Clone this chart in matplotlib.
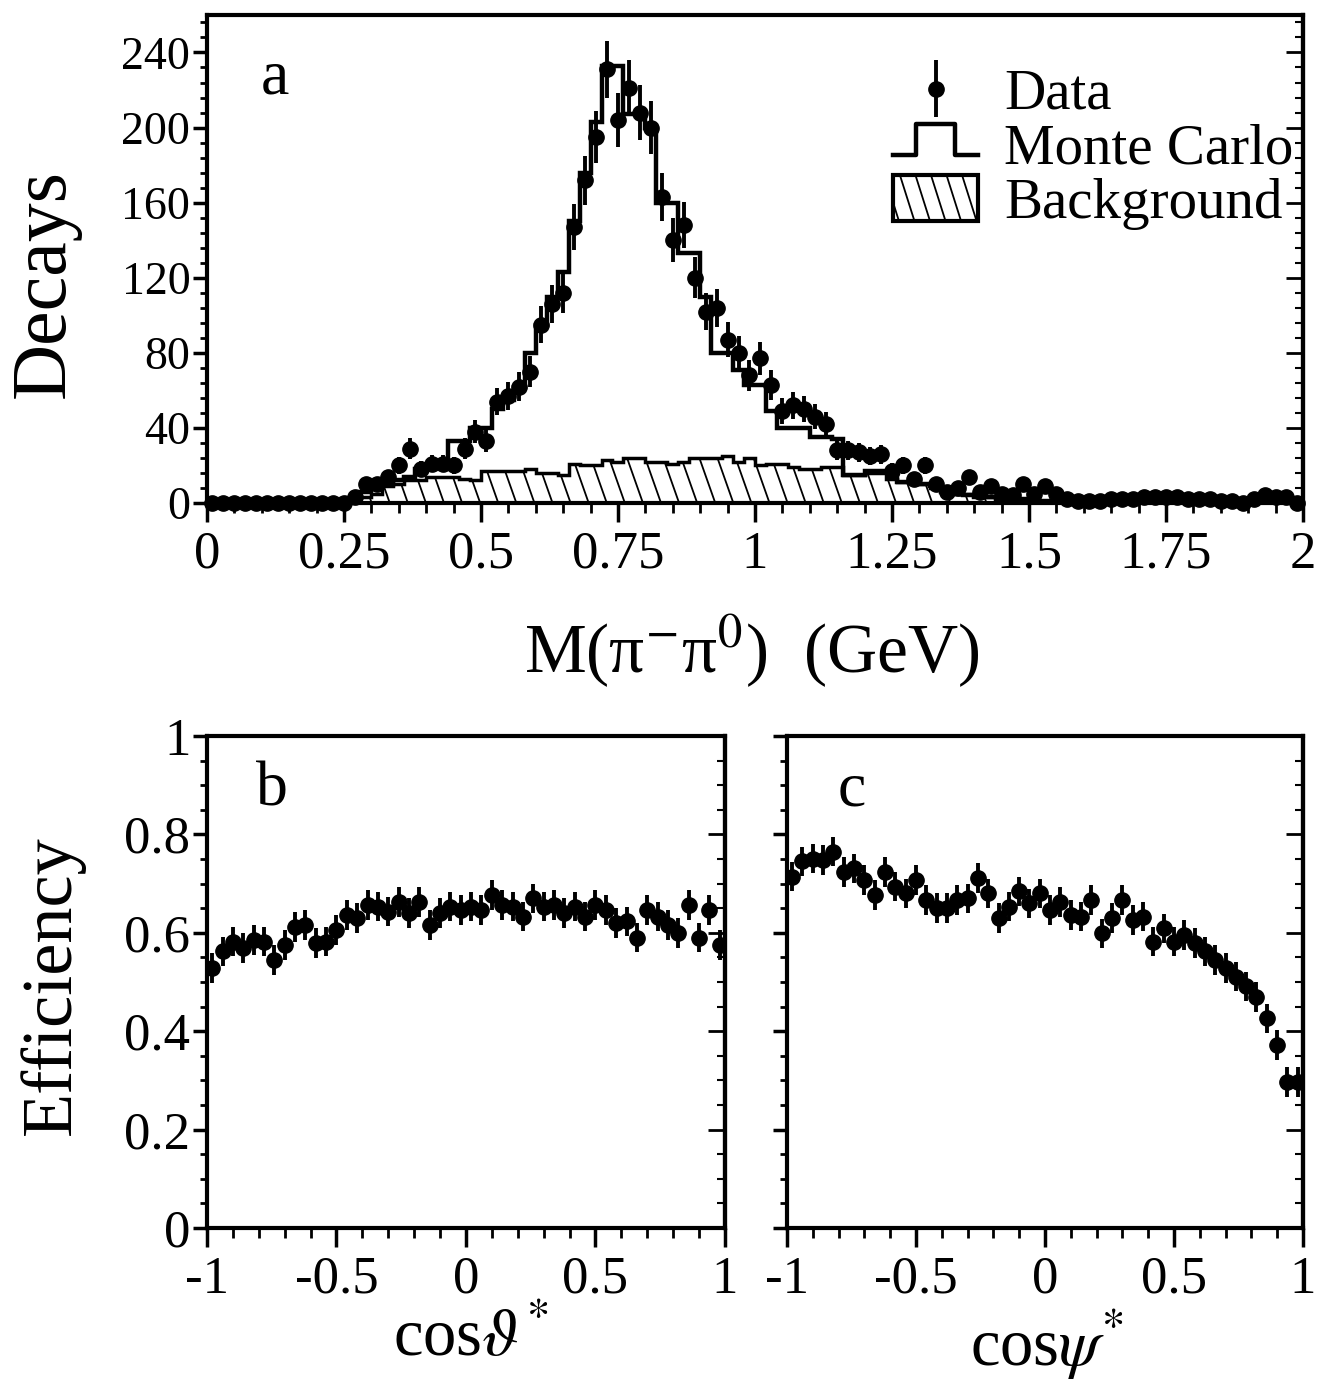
import numpy as np
import matplotlib
matplotlib.use('Agg')
import matplotlib.pyplot as plt
import matplotlib.ticker as mt
from matplotlib.legend_handler import HandlerBase
from matplotlib.lines import Line2D
from matplotlib.patches import Rectangle

plt.rcParams['font.family'] = ['Liberation Serif', 'DejaVu Serif']
plt.rcParams['mathtext.fontset'] = 'stix'
plt.rcParams['axes.unicode_minus'] = False

# ---- panel a : M(pi- pi0), 100 bins of 20 MeV ----
mass_edges = np.linspace(0, 2, 101)
data_counts = [0, 0, 0, 0, 0, 0, 0, 0, 0, 0, 0, 0, 0, 3, 10, 10, 14, 20, 29, 18,
               21, 21, 20, 29, 38, 33, 54, 57, 62, 70, 95, 106, 112, 147, 172, 195, 231, 204, 221, 208,
               200, 163, 140, 148, 120, 102, 104, 87, 80, 68, 77, 63, 49, 52, 50, 46, 42, 28, 28, 27,
               25, 26, 17, 20, 13, 20, 10, 6, 8, 14, 6, 9, 5, 4, 10, 5, 9, 5, 2, 1,
               1, 1, 2, 2, 2, 3, 3, 3, 3, 2, 2, 2, 1, 1, 0, 2, 4, 3, 3, 0]
mc_counts = [0, 0, 0, 0, 0, 0, 0, 0, 0, 0, 0, 0, 0, 2, 6, 8, 10, 12, 14, 18,
             20, 22, 33, 33, 40, 40, 50, 55, 62, 80, 95, 110, 123, 150, 176, 203, 233, 233, 207, 207,
             200, 160, 160, 133, 133, 110, 80, 80, 71, 63, 63, 49, 40, 40, 40, 35, 35, 34, 15, 15,
             17, 17, 17, 11, 11, 10, 9, 6, 5, 4, 3, 3, 2, 2, 2, 1, 1, 1, 1, 1,
             1, 1, 1, 1, 2, 2, 2, 2, 2, 2, 2, 1, 1, 1, 1, 1, 2, 2, 2, 1]
bkg_counts = [0, 0, 0, 0, 0, 0, 0, 0, 0, 0, 0, 0, 0, 1, 3, 5, 9, 10, 12, 12,
              14, 14, 14, 13, 12, 17, 17, 17, 17, 18, 16, 16, 15, 21, 20, 20, 23, 22, 24, 24,
              22, 22, 21, 22, 24, 24, 24, 25, 22, 24, 20, 21, 21, 19, 18, 18, 19, 19, 15, 15,
              16, 16, 13, 11, 11, 10, 8, 6, 5, 5, 4, 3, 3, 2, 2, 1, 1, 1, 0, 0,
              0, 0, 0, 0, 0, 0, 0, 0, 0, 0, 0, 0, 0, 0, 0, 0, 0, 0, 0, 0]

# ---- panels b, c : efficiency, 50 bins ----
cos_centers = np.linspace(-0.98, 0.98, 50)
eff_theta = [0.528, 0.562, 0.582, 0.569, 0.585, 0.582, 0.545, 0.575, 0.612, 0.616,
             0.579, 0.582, 0.606, 0.636, 0.630, 0.657, 0.653, 0.643, 0.663, 0.640,
             0.663, 0.616, 0.640, 0.653, 0.646, 0.653, 0.646, 0.677, 0.656, 0.653,
             0.633, 0.670, 0.653, 0.656, 0.640, 0.653, 0.633, 0.656, 0.646, 0.620,
             0.623, 0.590, 0.646, 0.633, 0.616, 0.600, 0.656, 0.590, 0.646, 0.575]
eff_psi = [0.714, 0.745, 0.751, 0.748, 0.765, 0.724, 0.731, 0.707, 0.677, 0.724,
           0.694, 0.680, 0.707, 0.667, 0.650, 0.650, 0.667, 0.670, 0.711, 0.680,
           0.630, 0.653, 0.684, 0.660, 0.680, 0.646, 0.663, 0.636, 0.633, 0.667,
           0.599, 0.630, 0.667, 0.626, 0.633, 0.582, 0.609, 0.582, 0.596, 0.579,
           0.562, 0.545, 0.528, 0.511, 0.491, 0.470, 0.426, 0.372, 0.297, 0.297]
eff_err = 0.03


class StepHandler(HandlerBase):
    def create_artists(self, legend, orig_handle, xd, yd, w, h, fontsize, trans):
        x0, y0 = -xd, -yd
        lo, hi = y0 + 0.2 * h, y0 + 1.0 * h
        xs = [x0, x0 + 0.27 * w, x0 + 0.27 * w, x0 + 0.73 * w, x0 + 0.73 * w, x0 + w]
        ys = [lo, lo, hi, hi, lo, lo]
        return [Line2D(xs, ys, color='black', lw=3.2, transform=trans)]


class HatchBoxHandler(HandlerBase):
    def create_artists(self, legend, orig_handle, xd, yd, w, h, fontsize, trans):
        hh = 1.15 * h
        x0, y0 = -xd, -yd + 0.5 * h - 0.5 * hh
        box = Rectangle((x0, y0), w, hh, facecolor='white', edgecolor='black',
                        lw=3, transform=trans)
        arts = [box]
        for k in range(7):
            xa = x0 - 0.1 * w + k * w / 5.5
            ln = Line2D([xa, xa + 0.17 * w], [y0 + hh, y0], color='black', lw=1.3,
                        transform=trans)
            ln.set_clip_path(box)
            arts.append(ln)
        return arts


def finish_axis(ax, labels=True, ylabsize=38):
    for sp in ax.spines.values():
        sp.set_linewidth(3)
    ax.tick_params(which='major', direction='out', length=14, width=2.5,
                   labelsize=38, pad=6, labelleft=labels)
    ax.tick_params(which='minor', direction='out', length=7, width=2)
    ax.tick_params(axis='y', which='major', length=10, pad=2, labelsize=ylabsize)
    ax.tick_params(axis='y', which='minor', length=5)
    sec = ax.secondary_yaxis('right')
    sec.yaxis.set_major_locator(ax.yaxis.get_major_locator())
    sec.yaxis.set_minor_locator(ax.yaxis.get_minor_locator())
    sec.tick_params(which='major', direction='in', length=12, width=2, labelright=False)
    sec.tick_params(which='minor', direction='in', length=6, width=1.5)
    sec.spines['right'].set_linewidth(3)


fmt = mt.FuncFormatter(lambda v, p: '%g' % v)

fig = plt.figure(figsize=(13.26, 13.83), dpi=100)

# ---------------- panel a ----------------
ax = fig.add_axes([0.1561, 0.6363, 0.8265, 0.3529])
centers = 0.5 * (mass_edges[1:] + mass_edges[:-1])
bkg = ax.stairs(bkg_counts, mass_edges, fill=True, facecolor='white',
                edgecolor='black', lw=2.5, zorder=1)
for x0 in np.arange(0.27, 1.62, 0.033):
    ln, = ax.plot([x0, x0 - 0.075], [-2, 60], color='black', lw=1.3, zorder=1.5)
    ln.set_clip_path(bkg)
mc = ax.stairs(mc_counts, mass_edges, color='black', lw=3.2, zorder=2)
dat = ax.errorbar(centers, data_counts, yerr=np.sqrt(data_counts), fmt='o',
                  color='black', ms=11, elinewidth=2.8, capsize=0, zorder=3,
                  clip_on=False)
ax.set_xlim(0, 2)
ax.set_ylim(0, 260)
ax.xaxis.set_major_locator(mt.MultipleLocator(0.25))
ax.xaxis.set_minor_locator(mt.MultipleLocator(0.05))
ax.xaxis.set_major_formatter(fmt)
ax.yaxis.set_major_locator(mt.MultipleLocator(40))
ax.yaxis.set_minor_locator(mt.MultipleLocator(8))
finish_axis(ax, ylabsize=33)
ax.set_ylabel('Decays', fontsize=56)
ax.yaxis.set_label_coords(-0.115, 0.45)
ax.set_xlabel('M(π$^{-}$π$^{0}$)  (GeV)', fontsize=50)
ax.xaxis.set_label_coords(0.497, -0.225)
ax.text(0.062, 0.87, 'a', transform=ax.transAxes, fontsize=46, ha='center', va='center')
ax.legend([dat, mc, bkg], ['Data', 'Monte Carlo', 'Background'],
          handler_map={mc: StepHandler(), bkg: HatchBoxHandler()},
          loc='upper left', bbox_to_anchor=(0.626, 0.89), frameon=False,
          borderpad=0, borderaxespad=0, handlelength=1.5, handletextpad=0.45,
          labelspacing=0.05, fontsize=41)

# ---------------- panel b ----------------
axb = fig.add_axes([0.1561, 0.1121, 0.3906, 0.3557])
axb.errorbar(cos_centers, eff_theta, yerr=eff_err, fmt='o', color='black', ms=11,
             elinewidth=2.8, capsize=0)
axc = fig.add_axes([0.5935, 0.1121, 0.3891, 0.3557])
axc.errorbar(cos_centers, eff_psi, yerr=eff_err, fmt='o', color='black', ms=11,
             elinewidth=2.8, capsize=0)
for a, lab, txt in [(axb, True, 'b'), (axc, False, 'c')]:
    a.set_xlim(-1, 1)
    a.set_ylim(0, 1)
    a.xaxis.set_major_locator(mt.MultipleLocator(0.5))
    a.xaxis.set_minor_locator(mt.MultipleLocator(0.1))
    a.yaxis.set_major_locator(mt.MultipleLocator(0.2))
    a.yaxis.set_minor_locator(mt.MultipleLocator(0.05))
    a.xaxis.set_major_formatter(fmt)
    a.yaxis.set_major_formatter(fmt)
    finish_axis(a, labels=lab)
    a.text(0.126, 0.89, txt, transform=a.transAxes, fontsize=46, ha='center', va='center')

axb.set_ylabel('Efficiency', fontsize=52)
axb.yaxis.set_label_coords(-0.235, 0.494)
axb.set_xlabel(r'cos$\vartheta^{*}$', fontsize=48)
axb.xaxis.set_label_coords(0.51, -0.162)
axc.set_xlabel(r'cos$\psi^{*}$', fontsize=48)
axc.xaxis.set_label_coords(0.504, -0.162)

fig.savefig('out.png', dpi=100, facecolor='white')
